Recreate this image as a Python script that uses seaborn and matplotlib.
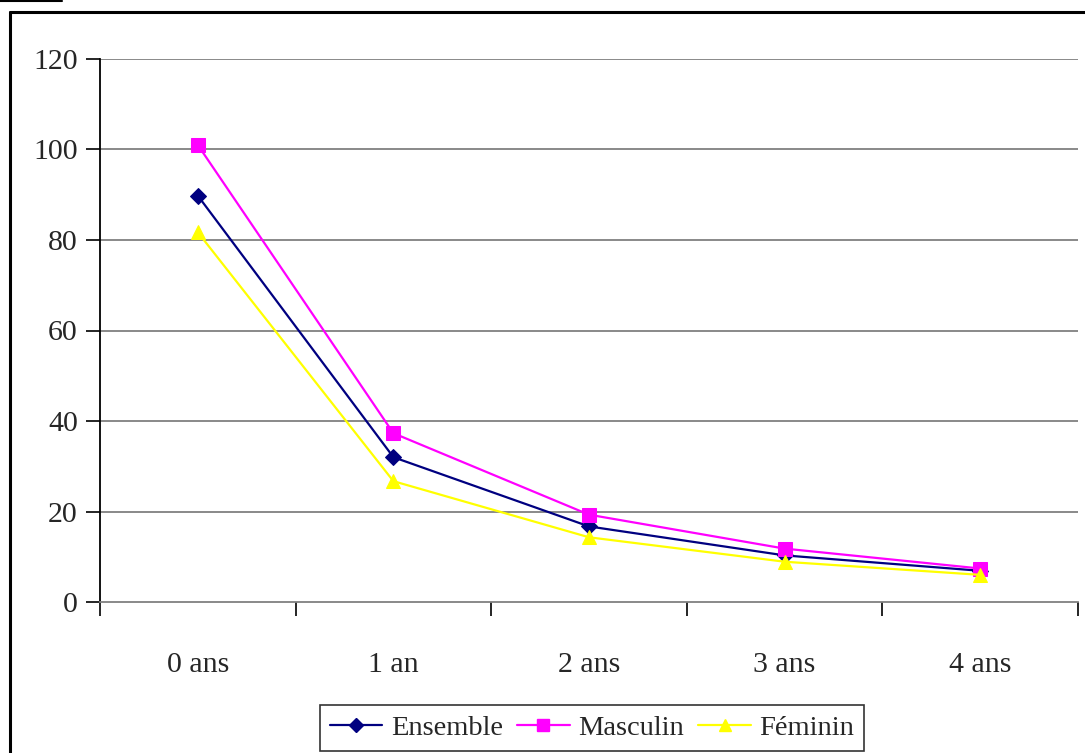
import matplotlib
matplotlib.use("Agg")
import matplotlib.pyplot as plt
from matplotlib.lines import Line2D
from matplotlib.ticker import FixedLocator
import seaborn as sns
import pandas as pd

# Age groups and rates per series
ages = ["0 ans", "1 an", "2 ans", "3 ans", "4 ans"]
ensemble = [89.8, 32.0, 16.7, 10.3, 6.9]
masculin = [101.0, 37.3, 19.3, 11.8, 7.4]
feminin = [81.7, 26.7, 14.3, 8.9, 6.0]
y_ticks = [0, 20, 40, 60, 80, 100, 120]

series_names = ["Ensemble", "Masculin", "Féminin"]
colors = {"Ensemble": "#000080", "Masculin": "#FF00FF", "Féminin": "#FFFF00"}
markers = {"Ensemble": "D", "Masculin": "s", "Féminin": "^"}
marker_sizes = {"Ensemble": 8, "Masculin": 9.5, "Féminin": 10}

frames = []
for name, vals in zip(series_names, [ensemble, masculin, feminin]):
    frames.append(pd.DataFrame({"age": ages, "taux": vals, "serie": name}))
df = pd.concat(frames, ignore_index=True)
df["pos"] = df["age"].map({a: i for i, a in enumerate(ages)})

sns.set_theme(style="white")
plt.rcParams["font.family"] = ["Liberation Serif", "DejaVu Serif"]

FS = 21.5

fig = plt.figure(figsize=(10.85, 7.53), dpi=100)
ax = fig.add_axes([100 / 1085, 1 - 602 / 753, 978 / 1085, 543 / 753])

for name in series_names:
    sub = df[df["serie"] == name]
    sns.lineplot(data=sub, x="pos", y="taux", color=colors[name],
                 marker=markers[name], markersize=marker_sizes[name],
                 markeredgecolor=colors[name], markerfacecolor=colors[name],
                 linewidth=1.6, ax=ax, legend=False, zorder=3)

ax.set_xlim(-0.5, 4.5)
ax.set_ylim(0, 120)
ax.set_xlabel("")
ax.set_ylabel("")

# y axis: ticks every 20, horizontal grid
ax.yaxis.set_major_locator(FixedLocator(y_ticks))
ax.set_yticklabels([str(v) for v in y_ticks])
for v in y_ticks[1:]:
    ax.axhline(v, color="#808080", linewidth=1.3, zorder=1)

# x axis: labels at category centers, tick marks on boundaries
ax.xaxis.set_major_locator(FixedLocator(range(len(ages))))
ax.set_xticklabels(ages)
ax.xaxis.set_minor_locator(FixedLocator([i - 0.5 for i in range(len(ages) + 1)]))
ax.tick_params(axis="x", which="major", length=0, pad=36, labelsize=FS)
ax.tick_params(axis="x", which="minor", length=10, width=1.2, color="black",
               direction="out", bottom=True)
ax.tick_params(axis="y", which="major", length=10, width=1.2, color="black",
               direction="out", left=True, pad=6, labelsize=FS)

for s in ["top", "right"]:
    ax.spines[s].set_visible(False)
ax.spines["left"].set_color("black")
ax.spines["left"].set_linewidth(1.3)
ax.spines["bottom"].set_color("#808080")
ax.spines["bottom"].set_linewidth(1.3)
ax.grid(False)

handles = [Line2D([0], [0], color=colors[n], marker=markers[n],
                  markersize=marker_sizes[n] * 0.9, linewidth=1.6,
                  markerfacecolor=colors[n], markeredgecolor=colors[n])
           for n in series_names]
leg = fig.legend(handles, series_names, loc="center",
                 bbox_to_anchor=(592 / 1085, 1 - 728 / 753), ncol=3,
                 frameon=True, fancybox=False, fontsize=20.5,
                 handlelength=1.85, handletextpad=0.3, columnspacing=0.5,
                 borderpad=0.35, borderaxespad=0)
leg.get_frame().set_edgecolor("black")
leg.get_frame().set_linewidth(1.2)

# Outer chart frame (left and top edges) and caption underline
fig.add_artist(Line2D([10 / 1085, 10 / 1085], [0, 1 - 12 / 753],
                      color="black", linewidth=2.2, transform=fig.transFigure))
fig.add_artist(Line2D([10 / 1085, 1], [1 - 12 / 753, 1 - 12 / 753],
                      color="black", linewidth=2.2, transform=fig.transFigure))
fig.add_artist(Line2D([0, 62 / 1085], [1 - 0.6 / 753, 1 - 0.6 / 753],
                      color="black", linewidth=1.5, transform=fig.transFigure))

fig.savefig("out.png", dpi=100, facecolor="white")
